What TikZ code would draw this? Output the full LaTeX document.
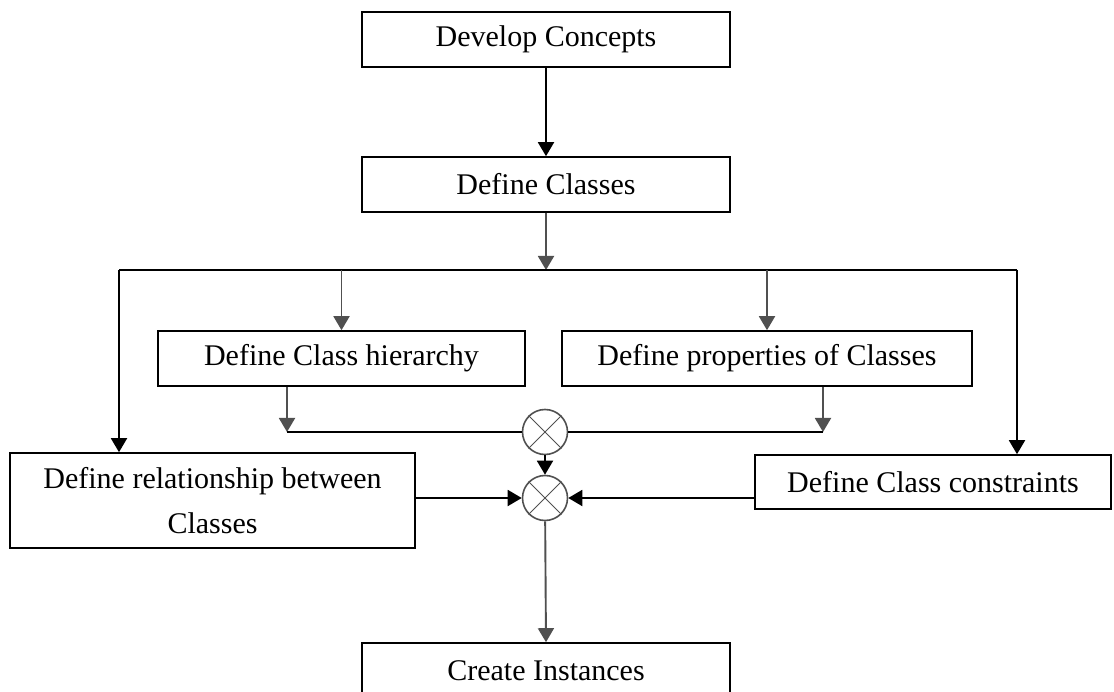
\documentclass[tikz,border=0pt]{standalone}
\usepackage{fontspec}
\setmainfont{Liberation Serif}
\usetikzlibrary{arrows.meta}

\definecolor{linegray}{HTML}{505050}

\begin{document}
\begin{tikzpicture}[x=1pt,y=-1pt,
  stepbox/.style={draw=black, line width=1.6pt, minimum height=55pt,
    inner sep=0pt, font=\fontsize{30}{45}\selectfont, align=center},
  joint/.style={draw=linegray, circle, line width=1.6pt, minimum size=45pt, inner sep=0pt},
  flow/.style={line width=1.9pt, -{Triangle[width=16pt,length=14pt]}},
  plain/.style={line width=1.9pt},
]
\useasboundingbox (0,0) rectangle (1114,692);
\clip (0,0) rectangle (1114,692);

% process steps
\node[stepbox, minimum width=368pt] (dev)   at (546,39.5)  {Develop Concepts};
\node[stepbox, minimum width=368pt] (cls)   at (546,184.5) {Define Classes};
\node[stepbox, minimum width=367pt] (hier)  at (341.5,358.5) {Define Class hierarchy};
\node[stepbox, minimum width=410pt] (props) at (767,358.5) {Define properties of Classes};
\node[stepbox, minimum width=405pt, minimum height=95pt] (rel) at (212.5,500.5)
  {Define relationship between\\Classes};
\node[stepbox, minimum width=356pt, minimum height=54pt] (cons) at (933,482)
  {Define Class constraints};
\node[stepbox, minimum width=368pt] (inst)  at (546,670.5) {Create Instances};

% combining junctions
\node[joint] (c1) at (545,432) {};
\node[joint] (c2) at (545,498) {};
\foreach \j in {c1,c2} {
  \draw[linegray, line width=1pt] (\j.45) -- (\j.225) (\j.135) -- (\j.315);
}

% distribution bus below "Define Classes"
\coordinate (busL) at (119,270);
\coordinate (busR) at (1017,270);
\coordinate (hj) at (287,432);
\coordinate (pj) at (823,432);

\draw[flow] (dev) -- (cls);
\draw[flow, linegray] (cls.south) -- (cls.south |- busL);
\draw[plain] (busL) -- (busR);
\draw[flow, linegray] (hier.north |- busL) -- (hier.north);
\draw[flow, linegray] (props.north |- busL) -- (props.north);
\draw[flow] (busL) -- (busL |- rel.north);
\draw[flow] (busR) -- (busR |- cons.north);

% merge of hierarchy and properties
\draw[flow, linegray] (hier.south -| hj) -- (hj);
\draw[flow, linegray] (props.south -| pj) -- (pj);
\draw[plain] (hj) -- (c1);
\draw[plain] (pj) -- (c1);
\draw[flow] (c1) -- (c2);

% final merge
\draw[flow] (rel.east |- c2) -- (c2);
\draw[flow] (cons.west |- c2) -- (c2);
\draw[flow, linegray] (c2) -- (inst.north);
\end{tikzpicture}
\end{document}
